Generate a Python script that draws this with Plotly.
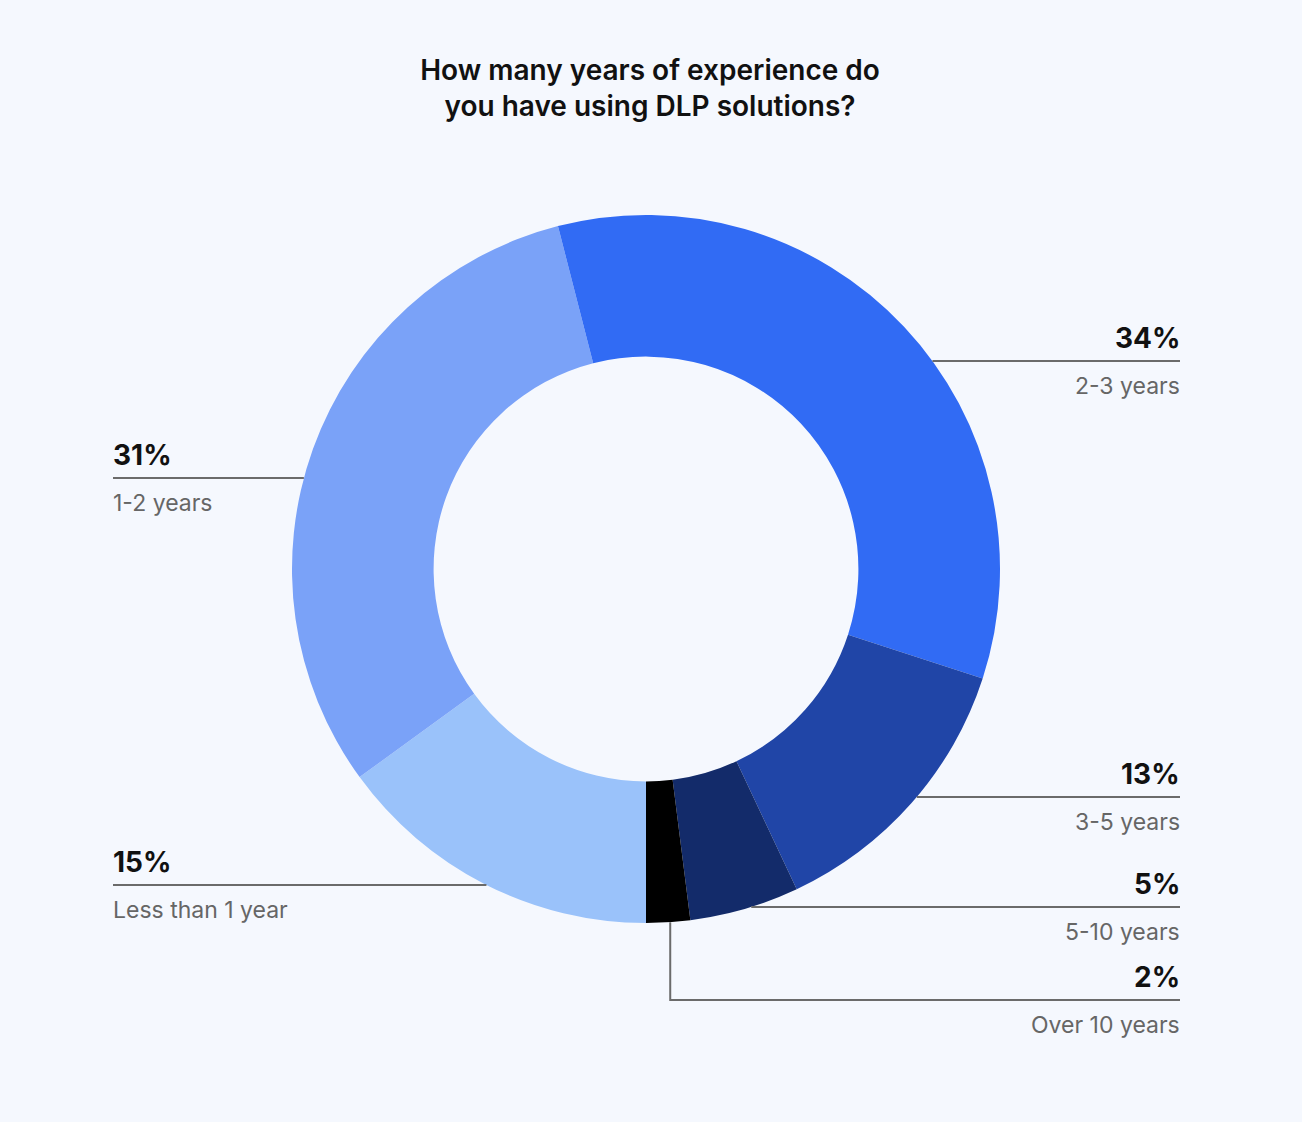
import math
import plotly.graph_objects as go

# ---- data ----
categories = ["Less than 1 year", "1-2 years", "2-3 years", "3-5 years", "5-10 years", "Over 10 years"]
values = [15, 31, 34, 13, 5, 2]
colors = ["#9AC2FA", "#7AA2F8", "#316BF4", "#2045A7", "#132B6A", "#000000"]
title_text = "How many years of experience do<br>you have using DLP solutions?"

# ---- layout constants (pixels) ----
W, H = 1302, 1122
CX, CY, R = 646, 569, 354
HOLE = 0.6
ROTATION = 180
BG = "#F5F8FE"
LINE_COLOR = "#6B6B6B"
RIGHT_X, LEFT_X = 1180, 113
TEXT_PAD = 2
# label placement: side and leader-line y (pixels)
label_pos = {
    "2-3 years": ("right", 361),
    "3-5 years": ("right", 797),
    "5-10 years": ("right", 907),
    "Over 10 years": ("elbow", 1000),
    "1-2 years": ("left", 478),
    "Less than 1 year": ("left", 885),
}

def px(x):
    return x / W

def py(y):
    return 1 - y / H

dom_x = [px(CX - R), px(CX + R)]
dom_y = [py(CY + R), py(CY - R)]

fig = go.Figure(go.Pie(
    labels=categories,
    values=values,
    sort=False,
    direction="clockwise",
    rotation=ROTATION,
    hole=HOLE,
    marker=dict(colors=colors, line=dict(width=0)),
    textinfo="none",
    hoverinfo="label+percent",
    showlegend=False,
    domain=dict(x=dom_x, y=dom_y),
))

shapes = []
annotations = []
total = sum(values)
cum = 0
for cat, v in zip(categories, values):
    mid = ROTATION + (cum + v / 2) / total * 360
    cum += v
    side, ly = label_pos[cat]
    if side == "elbow":
        ang = math.radians(mid)
        vx = CX + R * math.sin(ang) + 2
        vy0 = CY - R * math.cos(ang)
        shapes.append(dict(type="path", xref="paper", yref="paper",
                           path=f"M {px(vx)} {py(vy0)} L {px(vx)} {py(ly)} L {px(RIGHT_X)} {py(ly)}",
                           line=dict(color=LINE_COLOR, width=2)))
        xa, ax = RIGHT_X + TEXT_PAD, "right"
    else:
        dx = math.sqrt(max(R * R - (ly - CY) ** 2, 0))
        if side == "right":
            x0, x1 = CX + dx, RIGHT_X
            xa, ax = RIGHT_X + TEXT_PAD, "right"
        else:
            x0, x1 = LEFT_X, CX - dx
            xa, ax = LEFT_X - TEXT_PAD, "left"
        shapes.append(dict(type="line", xref="paper", yref="paper",
                           x0=px(x0), x1=px(x1), y0=py(ly), y1=py(ly),
                           line=dict(color=LINE_COLOR, width=2)))
    annotations.append(dict(x=px(xa), y=py(ly - 23), xref="paper", yref="paper",
                            xanchor=ax, yanchor="middle", showarrow=False,
                            text=f"<b>{v}%</b>",
                            font=dict(family="Inter", size=28, color="#111111")))
    annotations.append(dict(x=px(xa), y=py(ly + 25), xref="paper", yref="paper",
                            xanchor=ax, yanchor="middle", showarrow=False,
                            text=cat,
                            font=dict(family="Inter", size=23, color="#666666")))

fig.update_layout(
    width=W, height=H,
    margin=dict(l=0, r=0, t=0, b=0),
    paper_bgcolor=BG, plot_bgcolor=BG,
    title=dict(text=title_text, x=px(650), y=py(80), xanchor="center", yanchor="middle",
               font=dict(family="Inter", size=28, color="#111111", weight=600)),
    shapes=shapes,
    annotations=annotations,
)

fig.write_html("out.html")
